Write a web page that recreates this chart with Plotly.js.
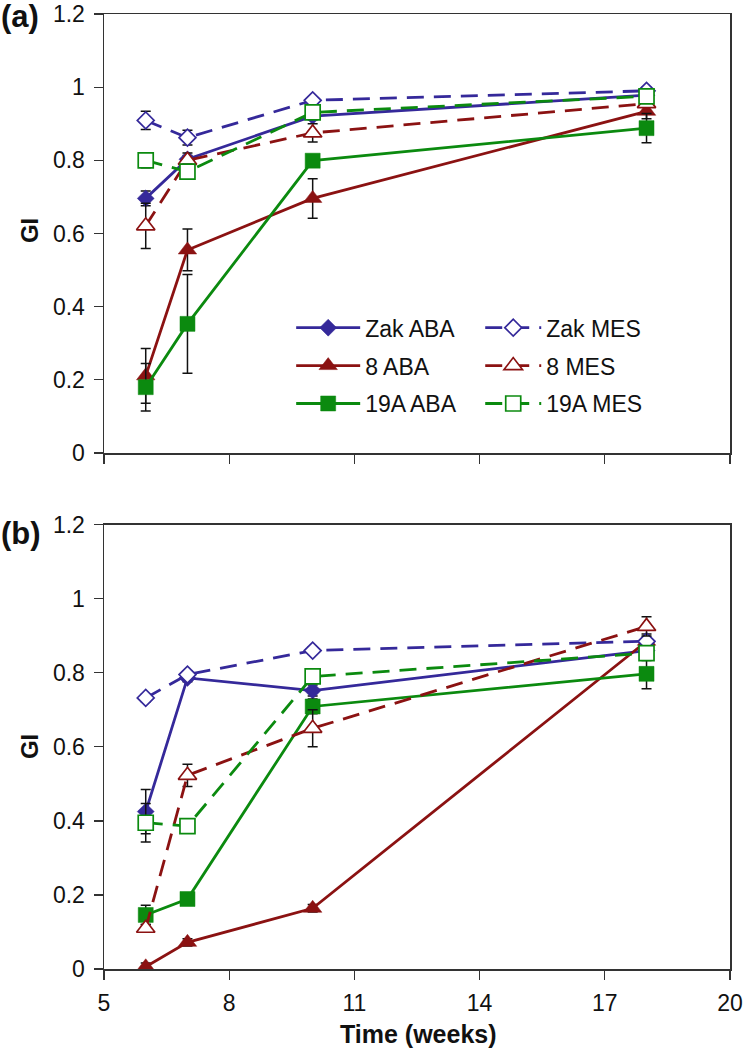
<!DOCTYPE html>
<html>
<head>
<meta charset="utf-8">
<script src="https://cdn.plot.ly/plotly-3.0.1.min.js"></script>
<style>html,body{margin:0;padding:0;background:#fff;}#chart{width:744px;height:1050px;}</style>
</head>
<body>
<div id="chart"></div>
<script>
// ---- data ----
const weeks = [6, 7, 10, 18];
const seriesNames = ["Zak ABA", "Zak MES", "8 ABA", "8 MES", "19A ABA", "19A MES"];

// panel (a)
const aZakABA = [0.696, 0.803, 0.921, 0.978];
const aZakMES = [0.909, 0.862, 0.964, 0.990];
const a8ABA   = [0.211, 0.555, 0.696, 0.934];
const a8MES   = [0.621, 0.800, 0.875, 0.955];
const a19ABA  = [0.180, 0.353, 0.799, 0.888];
const a19MES  = [0.800, 0.769, 0.931, 0.975];
const aZakABAerr = [0.020, 0.010, 0.010, 0.010];
const aZakMESerr = [0.025, 0.020, 0.010, 0.010];
const a8ABAerr   = [0.075, 0.057, 0.054, 0.020];
const a8MESerr   = [0.062, 0.020, 0.025, 0.010];
const a19ABAerr  = [0.065, 0.135, 0.010, 0.040];
const a19MESerr  = [0.020, 0.020, 0.010, 0.010];

// panel (b)
const bZakABA = [0.425, 0.786, 0.752, 0.860];
const bZakMES = [0.732, 0.795, 0.860, 0.885];
const b8ABA   = [0.006, 0.072, 0.164, 0.885];
const b8MES   = [0.110, 0.523, 0.650, 0.925];
const b19ABA  = [0.146, 0.189, 0.709, 0.797];
const b19MES  = [0.395, 0.386, 0.790, 0.853];
const bZakABAerr = [0.060, 0.010, 0.015, 0.010];
const bZakMESerr = [0.010, 0.010, 0.010, 0.010];
const b8ABAerr   = [0.010, 0.010, 0.010, 0.020];
const b8MESerr   = [0.010, 0.030, 0.050, 0.026];
const b19ABAerr  = [0.026, 0.010, 0.020, 0.040];
const b19MESerr  = [0.052, 0.010, 0.010, 0.020];

const yTicks = [0, 0.2, 0.4, 0.6, 0.8, 1, 1.2];
const xTicks = [5, 8, 11, 14, 17, 20];

// ---- styles ----
const BLUE = '#35299a', RED = '#8b1212', GREEN = '#0b8a0f';
const DASH = '17px,10px';
const styles = {
  "Zak ABA": {color: BLUE,  symbol: 'diamond',     size: 13, open: false, dash: 'solid'},
  "Zak MES": {color: BLUE,  symbol: 'diamond',     size: 13, open: true,  dash: DASH},
  "8 ABA":   {color: RED,   symbol: 'triangle-up', size: 16, open: false, dash: 'solid'},
  "8 MES":   {color: RED,   symbol: 'triangle-up', size: 16, open: true,  dash: DASH},
  "19A ABA": {color: GREEN, symbol: 'square',      size: 15, open: false, dash: 'solid'},
  "19A MES": {color: GREEN, symbol: 'square',      size: 15, open: true,  dash: DASH}
};

function mk(name, y, err, panel) {
  const s = styles[name];
  const isMES = name.indexOf('MES') >= 0;
  return {
    type: 'scatter', mode: 'lines+markers', name: name,
    x: weeks, y: y,
    xaxis: panel === 'a' ? 'x' : 'x2',
    yaxis: panel === 'a' ? 'y' : 'y2',
    line: {color: s.color, width: 2.8, dash: s.dash},
    marker: {symbol: s.symbol, size: s.size,
             color: s.open ? '#ffffff' : s.color,
             line: {color: s.color, width: s.open ? 1.7 : 0.5}},
    error_y: {type: 'data', array: err, visible: true, color: '#111', thickness: 1.5, width: 5},
    showlegend: panel === 'a',
    legend: isMES ? 'legend2' : 'legend',
    legendgroup: name
  };
}

const traces = [
  mk("Zak ABA", aZakABA, aZakABAerr, 'a'),
  mk("8 ABA",   a8ABA,   a8ABAerr,   'a'),
  mk("19A ABA", a19ABA, a19ABAerr, 'a'),
  mk("Zak MES", aZakMES, aZakMESerr, 'a'),
  mk("8 MES",   a8MES,   a8MESerr,   'a'),
  mk("19A MES", a19MES, a19MESerr, 'a'),
  mk("Zak ABA", bZakABA, bZakABAerr, 'b'),
  mk("8 ABA",   b8ABA,   b8ABAerr,   'b'),
  mk("19A ABA", b19ABA, b19ABAerr, 'b'),
  mk("Zak MES", bZakMES, bZakMESerr, 'b'),
  mk("8 MES",   b8MES,   b8MESerr,   'b'),
  mk("19A MES", b19MES, b19MESerr, 'b')
];

const tickFont = {family: 'Liberation Sans Narrow, Arial Narrow, Liberation Sans, Arial', size: 23, color: '#111'};
function xax(anchor, labels) {
  return {domain: [0, 1], anchor: anchor, range: [5, 20], tickmode: 'array', tickvals: xTicks,
          ticktext: xTicks.map(String), showticklabels: labels,
          showline: true, mirror: true, linecolor: '#333', linewidth: 1.5,
          ticks: 'outside', ticklen: 9, tickwidth: 1.3, tickcolor: '#333',
          showgrid: false, zeroline: false, tickfont: tickFont, ticklabelstandoff: 4,
          ticklabeloverflow: 'allow'};
}
function yax(domain, anchor) {
  return {domain: domain, anchor: anchor, range: [0, 1.2], tickmode: 'array', tickvals: yTicks,
          ticktext: yTicks.map(String),
          showline: true, mirror: true, linecolor: '#333', linewidth: 1.5,
          ticks: 'outside', ticklen: 9, tickwidth: 1.3, tickcolor: '#333',
          showgrid: false, zeroline: false, tickfont: tickFont, ticklabelstandoff: 4,
          ticklabeloverflow: 'allow'};
}

const legFont = {family: 'Liberation Sans, Arial', size: 23, color: '#111'};
const layout = {
  width: 744, height: 1050,
  margin: {l: 104, r: 14, t: 14, b: 81},
  paper_bgcolor: '#fff', plot_bgcolor: '#fff',
  xaxis: xax('y', false),
  yaxis: yax([0.5403, 1], 'x'),
  xaxis2: xax('y2', true),
  yaxis2: yax([0, 0.4653], 'x2'),
  legend: {x: 0.299, y: 0.694, xanchor: 'left', yanchor: 'top', bgcolor: 'rgba(0,0,0,0)',
           font: legFont, itemwidth: 64, tracegroupgap: 5, traceorder: 'grouped'},
  legend2: {x: 0.601, y: 0.694, xanchor: 'left', yanchor: 'top', bgcolor: 'rgba(0,0,0,0)',
            font: legFont, itemwidth: 56, tracegroupgap: 5, traceorder: 'grouped'},
  annotations: [
    {text: '<b>(a)</b>', xref: 'paper', yref: 'paper', x: -0.168, y: 0.9969, xanchor: 'left', yanchor: 'middle',
     showarrow: false, font: {family: 'Liberation Sans, Arial', size: 31, color: '#111'}},
    {text: '<b>(b)</b>', xref: 'paper', yref: 'paper', x: -0.168, y: 0.4555, xanchor: 'left', yanchor: 'middle',
     showarrow: false, font: {family: 'Liberation Sans, Arial', size: 31, color: '#111'}},
    {text: '<b>GI</b>', xref: 'paper', yref: 'paper', x: -0.118, y: 0.7728, xanchor: 'center', yanchor: 'middle',
     textangle: -90, showarrow: false, font: {family: 'Liberation Sans, Arial', size: 24, color: '#111'}},
    {text: '<b>GI</b>', xref: 'paper', yref: 'paper', x: -0.118, y: 0.2325, xanchor: 'center', yanchor: 'middle',
     textangle: -90, showarrow: false, font: {family: 'Liberation Sans, Arial', size: 24, color: '#111'}},
    {text: '<b>Time (weeks)</b>', xref: 'paper', yref: 'paper', x: 0.5016, y: -0.0681, xanchor: 'center', yanchor: 'middle',
     showarrow: false, font: {family: 'Liberation Sans, Arial', size: 25, color: '#111'}}
  ]
};

Plotly.newPlot('chart', traces, layout, {displayModeBar: false, staticPlot: true});
</script>
</body>
</html>
